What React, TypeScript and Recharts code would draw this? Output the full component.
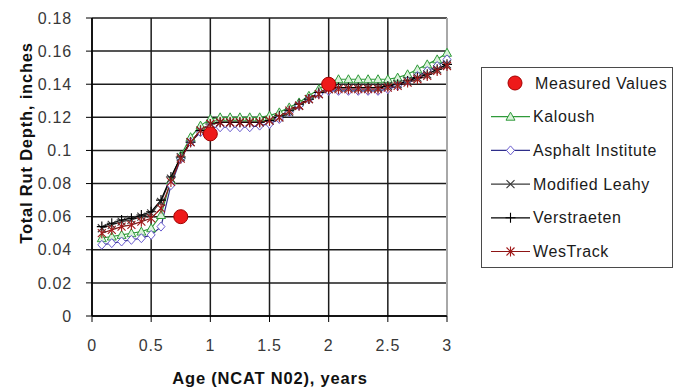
import React from 'react';
import {
  ComposedChart,
  Line,
  XAxis,
  YAxis,
  CartesianGrid,
  Legend,
  ReferenceLine,
} from 'recharts';

// Monthly ages (years) at which the models were evaluated
const ageYears = [
  0.083, 0.167, 0.25, 0.333, 0.417, 0.5, 0.583, 0.667, 0.75, 0.833, 0.917, 1.0,
  1.083, 1.167, 1.25, 1.333, 1.417, 1.5, 1.583, 1.667, 1.75, 1.833, 1.917, 2.0,
  2.083, 2.167, 2.25, 2.333, 2.417, 2.5, 2.583, 2.667, 2.75, 2.833, 2.917, 3.0,
];

// Predicted total rut depth (inches) for each model
const kaloush = [
  0.047, 0.048, 0.049, 0.05, 0.051, 0.053, 0.061, 0.082, 0.097, 0.108, 0.115, 0.119,
  0.12, 0.12, 0.12, 0.12, 0.12, 0.121, 0.123, 0.126, 0.129, 0.133, 0.137, 0.141,
  0.143, 0.143, 0.143, 0.143, 0.143, 0.143, 0.144, 0.146, 0.149, 0.152, 0.155, 0.159,
];
const asphaltInstitute = [
  0.043, 0.044, 0.045, 0.046, 0.047, 0.049, 0.054, 0.079, 0.095, 0.105, 0.111, 0.114,
  0.114, 0.114, 0.114, 0.114, 0.115, 0.116, 0.119, 0.123, 0.127, 0.131, 0.134, 0.136,
  0.136, 0.136, 0.136, 0.136, 0.136, 0.137, 0.139, 0.142, 0.145, 0.148, 0.151, 0.155,
];
const modifiedLeahy = [
  0.053, 0.055, 0.057, 0.058, 0.06, 0.062, 0.069, 0.083, 0.096, 0.105, 0.112, 0.116,
  0.117, 0.117, 0.117, 0.117, 0.117, 0.118, 0.12, 0.123, 0.127, 0.131, 0.134, 0.137,
  0.138, 0.138, 0.138, 0.138, 0.138, 0.139, 0.14, 0.142, 0.144, 0.146, 0.149, 0.152,
];
const verstraeten = [
  0.054, 0.056, 0.058, 0.059, 0.061, 0.063, 0.07, 0.084, 0.096, 0.105, 0.112, 0.116,
  0.117, 0.117, 0.117, 0.117, 0.117, 0.118, 0.121, 0.124, 0.128, 0.131, 0.135, 0.137,
  0.138, 0.138, 0.138, 0.138, 0.138, 0.139, 0.14, 0.142, 0.144, 0.146, 0.149, 0.152,
];
const wesTrack = [
  0.05, 0.052, 0.054, 0.055, 0.057, 0.059, 0.065, 0.081, 0.095, 0.105, 0.112, 0.116,
  0.117, 0.117, 0.117, 0.117, 0.117, 0.118, 0.12, 0.124, 0.127, 0.131, 0.134, 0.137,
  0.137, 0.137, 0.137, 0.137, 0.137, 0.138, 0.139, 0.141, 0.143, 0.145, 0.148, 0.151,
];

// Field measurements
const measuredAges = [0.75, 1.0, 2.0];
const measuredDepths = [0.06, 0.11, 0.14];

const xTicks = [0, 0.5, 1, 1.5, 2, 2.5, 3];
const yTicks = [0, 0.02, 0.04, 0.06, 0.08, 0.1, 0.12, 0.14, 0.16, 0.18];

const rows = ageYears.map((age, i) => {
  const m = measuredAges.findIndex((a) => Math.abs(a - age) < 0.01);
  return {
    age,
    measured: m >= 0 ? measuredDepths[m] : null,
    kaloush: kaloush[i],
    asphalt: asphaltInstitute[i],
    leahy: modifiedLeahy[i],
    verstraeten: verstraeten[i],
    westrack: wesTrack[i],
  };
});

const FONT = '"Liberation Sans", Arial, sans-serif';

type MarkerFn = (cx: number, cy: number, key?: string) => React.ReactElement;

const triangleMarker: MarkerFn = (cx, cy, key) => (
  <path
    key={key}
    d={`M${cx},${cy - 4.5} L${cx + 4.5},${cy + 3.5} L${cx - 4.5},${cy + 3.5} Z`}
    fill="#d9f2d9"
    stroke="#2f9a3a"
    strokeWidth={1}
  />
);
const diamondMarker: MarkerFn = (cx, cy, key) => (
  <path
    key={key}
    d={`M${cx},${cy - 4.5} L${cx + 4},${cy} L${cx},${cy + 4.5} L${cx - 4},${cy} Z`}
    fill="#ffffff"
    stroke="#6a5ccf"
    strokeWidth={1}
  />
);
const crossMarker: MarkerFn = (cx, cy, key) => (
  <path
    key={key}
    d={`M${cx - 4},${cy - 4} L${cx + 4},${cy + 4} M${cx - 4},${cy + 4} L${cx + 4},${cy - 4}`}
    stroke="#3a3a3a"
    strokeWidth={1.1}
    fill="none"
  />
);
const plusMarker: MarkerFn = (cx, cy, key) => (
  <path
    key={key}
    d={`M${cx},${cy - 5} L${cx},${cy + 5} M${cx - 5},${cy} L${cx + 5},${cy}`}
    stroke="#000000"
    strokeWidth={1.1}
    fill="none"
  />
);
const starMarker: MarkerFn = (cx, cy, key) => (
  <path
    key={key}
    d={`M${cx - 4},${cy - 4} L${cx + 4},${cy + 4} M${cx - 4},${cy + 4} L${cx + 4},${cy - 4} M${cx},${cy - 5} L${cx},${cy + 5}`}
    stroke="#a11a1a"
    strokeWidth={1.1}
    fill="none"
  />
);
const measuredMarker: MarkerFn = (cx, cy, key) => (
  <circle key={key} cx={cx} cy={cy} r={7} fill="#ee1a1a" stroke="#a40000" strokeWidth={1} />
);

const modelSeries = [
  { key: 'kaloush', name: 'Kaloush', stroke: '#2f9a3a', marker: triangleMarker },
  { key: 'asphalt', name: 'Asphalt Institute', stroke: '#2e2e8a', marker: diamondMarker },
  { key: 'leahy', name: 'Modified Leahy', stroke: '#3a3a3a', marker: crossMarker },
  { key: 'verstraeten', name: 'Verstraeten', stroke: '#000000', marker: plusMarker },
  { key: 'westrack', name: 'WesTrack', stroke: '#8e1515', marker: starMarker },
];

const dotRenderer = (marker: MarkerFn, tag: string) => (props: any) => {
  const { cx, cy, index } = props;
  const key = `${tag}-${index}`;
  if (cx == null || cy == null || Number.isNaN(cx) || Number.isNaN(cy)) {
    return <g key={key} />;
  }
  return marker(cx, cy, key);
};

const LegendBox = () => {
  const rowY = (i: number) => 16 + i * 33.7;
  return (
    <svg width={193} height={202} style={{ display: 'block' }}>
      <rect x={0.5} y={0.5} width={191} height={200} fill="#ffffff" stroke="#4a4a4a" strokeWidth={1} />
      {measuredMarker(34, rowY(0), 'lg-m')}
      <text x={54} y={rowY(0)} dominantBaseline="central" fontFamily={FONT} fontSize={16} letterSpacing={0.6} fill="#1a1a1a">
        Measured Values
      </text>
      {modelSeries.map((s, i) => (
        <g key={s.key}>
          <line x1={10} x2={49} y1={rowY(i + 1)} y2={rowY(i + 1)} stroke={s.stroke} strokeWidth={1.2} />
          {s.marker(29.5, rowY(i + 1), `lg-${s.key}`)}
          <text x={52} y={rowY(i + 1)} dominantBaseline="central" fontFamily={FONT} fontSize={16} letterSpacing={0.6} fill="#1a1a1a">
            {s.name}
          </text>
        </g>
      ))}
    </svg>
  );
};

const YTitle = () => (
  <text
    x={32}
    y={143}
    transform="rotate(-90 32 143)"
    textAnchor="middle"
    fontFamily={FONT}
    fontSize={16.5}
    fontWeight="bold"
    letterSpacing={0.8}
    fill="#111"
  >
    Total Rut Depth, inches
  </text>
);

const XTitle = () => (
  <text
    x={270}
    y={384}
    textAnchor="middle"
    fontFamily={FONT}
    fontSize={16.5}
    fontWeight="bold"
    letterSpacing={0.8}
    fill="#111"
  >
    Age (NCAT N02), years
  </text>
);

const tickStyle = { fontFamily: FONT, fontSize: 16, fill: '#383838', letterSpacing: 0.8 };

export default function App() {
  return (
    <div style={{ position: 'absolute', left: 0, top: 0, width: 678, height: 389, background: '#ffffff' }}>
      <ComposedChart
        width={678}
        height={389}
        data={rows}
        margin={{ top: 18, right: 231, bottom: 0, left: 0 }}
      >
        <CartesianGrid stroke="#1c1c1c" strokeWidth={1.5} />
        <XAxis
          dataKey="age"
          type="number"
          domain={[0, 3]}
          ticks={xTicks}
          height={73}
          tickSize={6}
          tickMargin={18}
          tick={tickStyle}
          axisLine={{ stroke: '#000', strokeWidth: 1.5 }}
          tickLine={{ stroke: '#000' }}
          label={<XTitle />}
        />
        <YAxis
          type="number"
          domain={[0, 0.18]}
          ticks={yTicks}
          width={92}
          tickSize={6}
          tickMargin={14}
          tick={tickStyle}
          axisLine={{ stroke: '#000', strokeWidth: 1.5 }}
          tickLine={{ stroke: '#000' }}
          label={<YTitle />}
        />
        <ReferenceLine x={3} stroke="#a8a8a8" strokeWidth={2} />
        {modelSeries.map((s) => (
          <Line
            key={s.key}
            dataKey={s.key}
            name={s.name}
            type="linear"
            stroke={s.stroke}
            strokeWidth={1.2}
            dot={dotRenderer(s.marker, s.key)}
            activeDot={false}
            isAnimationActive={false}
          />
        ))}
        <Line
          dataKey="measured"
          name="Measured Values"
          stroke="none"
          connectNulls={false}
          dot={dotRenderer(measuredMarker, 'measured')}
          activeDot={false}
          isAnimationActive={false}
        />
        <Legend
          layout="vertical"
          align="center"
          verticalAlign="middle"
          wrapperStyle={{ left: 481, top: 67, width: 193, height: 202 }}
          content={<LegendBox />}
        />
      </ComposedChart>
    </div>
  );
}
